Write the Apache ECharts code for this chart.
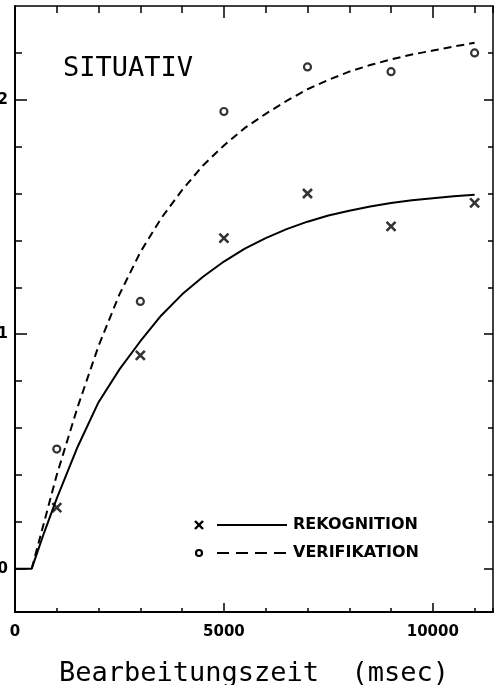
<!DOCTYPE html>
<html>
<head>
<meta charset="utf-8">
<script src="https://cdn.jsdelivr.net/npm/echarts@6/dist/echarts.min.js"></script>
<style>html,body{margin:0;padding:0;background:#fff}#chart{width:503px;height:685px}</style>
</head>
<body>
<div id="chart"></div>
<script>
const measureTimes = [1000, 3000, 5000, 7000, 9000, 11000];
const rekognitionPoints = [0.26, 0.91, 1.41, 1.60, 1.46, 1.56];
const verifikationPoints = [0.51, 1.14, 1.95, 2.14, 2.12, 2.20];

const curveTimes = [0, 400, 700, 1000, 1500, 2000, 2500, 3000, 3500, 4000, 4500, 5000, 5500, 6000, 6500, 7000, 7500, 8000, 8500, 9000, 9500, 10000, 10500, 11000];
const rekognitionCurve = [0, 0, 0.155, 0.30, 0.52, 0.71, 0.85, 0.97, 1.08, 1.17, 1.245, 1.31, 1.365, 1.41, 1.448, 1.48, 1.506, 1.527, 1.545, 1.56, 1.571, 1.58, 1.588, 1.595];
const verifikationCurve = [null, 0, 0.20, 0.40, 0.69, 0.95, 1.17, 1.35, 1.495, 1.615, 1.72, 1.805, 1.88, 1.94, 1.995, 2.045, 2.085, 2.12, 2.148, 2.172, 2.193, 2.21, 2.227, 2.243];

const xLabelValues = [0, 5000, 10000];
const xMajorTicks = [5000, 10000];
const yLabelValues = [0, 1, 2];
const yMinorTicks = [0.2, 0.4, 0.6, 0.8, 1.2, 1.4, 1.6, 1.8, 2.2];
const yAllTicks = [0, 0.2, 0.4, 0.6, 0.8, 1, 1.2, 1.4, 1.6, 1.8, 2, 2.2];

const titleText = 'SITUATIV';
const xAxisName = 'Bearbeitungszeit  (msec)';
const legendNames = ['REKOGNITION', 'VERIFIKATION'];

const X_MIN = 0, X_MAX = 11440, Y_MIN = -0.185, Y_MAX = 2.4;

const chart = echarts.init(document.getElementById('chart'), null, {renderer: 'canvas'});

const crossPath = 'path://M0,0L10,10M10,0L0,10';
const labelFont = {fontFamily: 'DejaVu Sans', fontWeight: 'bold', fontSize: 15, color: '#000'};

function xAx(extra) {
  return Object.assign({
    type: 'value', min: X_MIN, max: X_MAX, gridIndex: 0,
    splitLine: {show: false},
    axisLine: {show: false, onZero: false, lineStyle: {color: '#000', width: 2}},
    axisTick: {show: false},
    axisLabel: {show: false}
  }, extra);
}
function yAx(extra) {
  return Object.assign({
    type: 'value', min: Y_MIN, max: Y_MAX, gridIndex: 0,
    splitLine: {show: false},
    axisLine: {show: false, onZero: false, lineStyle: {color: '#000', width: 2}},
    axisTick: {show: false},
    axisLabel: {show: false}
  }, extra);
}

const option = {
  backgroundColor: '#fff',
  animation: false,
  grid: {left: 15, right: 10, top: 6, bottom: 73, containLabel: false,
    outerBounds: {left: -40, top: -40, right: -40, bottom: -40}},
  xAxis: [
    xAx({position: 'bottom', interval: 1000,
      axisLine: {show: true, onZero: false, lineStyle: {color: '#000', width: 2}},
      axisTick: {show: true, inside: true, length: 4, lineStyle: {color: '#000', width: 1.5}},
      axisLabel: Object.assign({show: true, customValues: xLabelValues, margin: 13,
        formatter: v => String(v)}, labelFont),
      name: xAxisName, nameLocation: 'middle', nameGap: 48,
      nameTextStyle: {fontFamily: 'DejaVu Sans Mono', fontSize: 27, color: '#000'}
    }),
    xAx({position: 'bottom',
      axisTick: {show: true, inside: true, length: 9, customValues: xMajorTicks, lineStyle: {color: '#000', width: 1.5}}
    }),
    xAx({position: 'top', interval: 1000,
      axisLine: {show: true, onZero: false, lineStyle: {color: '#000', width: 1.5}},
      axisTick: {show: true, inside: true, length: 7, lineStyle: {color: '#000', width: 1.5}}
    }),
    xAx({position: 'top',
      axisTick: {show: true, inside: true, length: 12, customValues: xMajorTicks, lineStyle: {color: '#000', width: 1.5}}
    })
  ],
  yAxis: [
    yAx({position: 'left',
      axisLine: {show: true, onZero: false, lineStyle: {color: '#000', width: 2}},
      axisTick: {show: true, inside: true, length: 12, customValues: yLabelValues, lineStyle: {color: '#000', width: 1.5}},
      axisLabel: Object.assign({show: true, customValues: yLabelValues, margin: 7,
        formatter: v => String(v)}, labelFont)
    }),
    yAx({position: 'left',
      axisTick: {show: true, inside: true, length: 7, customValues: yMinorTicks, lineStyle: {color: '#000', width: 1.5}}
    }),
    yAx({position: 'right',
      axisLine: {show: true, onZero: false, lineStyle: {color: '#000', width: 1.5}},
      axisTick: {show: true, inside: true, length: 5, customValues: yAllTicks, lineStyle: {color: '#000', width: 1.5}}
    }),
    yAx({position: 'right',
      axisTick: {show: true, inside: true, length: 9, customValues: yLabelValues, lineStyle: {color: '#000', width: 1.5}}
    })
  ],
  series: [
    {
      name: legendNames[0] + ' Kurve', type: 'line', xAxisIndex: 0, yAxisIndex: 0,
      data: curveTimes.map((t, i) => [t, rekognitionCurve[i]]),
      showSymbol: false, smooth: false,
      lineStyle: {color: '#000', width: 2}
    },
    {
      name: legendNames[1] + ' Kurve', type: 'line', xAxisIndex: 0, yAxisIndex: 0,
      data: curveTimes.map((t, i) => [t, verifikationCurve[i]]),
      showSymbol: false, smooth: false, connectNulls: false,
      lineStyle: {color: '#000', width: 2, type: [8, 5]}
    },
    {
      name: legendNames[0], type: 'scatter', xAxisIndex: 0, yAxisIndex: 0,
      data: measureTimes.map((t, i) => [t, rekognitionPoints[i]]),
      symbol: crossPath, symbolSize: 9,
      itemStyle: {color: 'none', borderColor: '#000', borderWidth: 2.6}
    },
    {
      name: legendNames[1], type: 'scatter', xAxisIndex: 0, yAxisIndex: 0,
      data: measureTimes.map((t, i) => [t, verifikationPoints[i]]),
      symbol: 'circle', symbolSize: 7,
      itemStyle: {color: '#fff', borderColor: '#000', borderWidth: 2.2}
    }
  ],
  graphic: [
    {type: 'text', left: 63, top: 55,
      style: {text: titleText, fontFamily: 'DejaVu Sans Mono', fontSize: 27, fill: '#000'}},
    {type: 'line', shape: {x1: 195, y1: 521, x2: 203, y2: 529}, style: {stroke: '#000', lineWidth: 2.4}},
    {type: 'line', shape: {x1: 203, y1: 521, x2: 195, y2: 529}, style: {stroke: '#000', lineWidth: 2.4}},
    {type: 'line', shape: {x1: 217, y1: 525, x2: 287, y2: 525}, style: {stroke: '#000', lineWidth: 2}},
    {type: 'text', x: 293, y: 525,
      style: {text: legendNames[0], fontFamily: 'DejaVu Sans', fontWeight: 'bold', fontSize: 16, fill: '#000', verticalAlign: 'middle'}},
    {type: 'circle', shape: {cx: 199, cy: 553, r: 3}, style: {fill: '#fff', stroke: '#000', lineWidth: 2.2}},
    {type: 'line', shape: {x1: 217, y1: 553, x2: 287, y2: 553}, style: {stroke: '#000', lineWidth: 2, lineDash: [12, 7]}},
    {type: 'text', x: 293, y: 553,
      style: {text: legendNames[1], fontFamily: 'DejaVu Sans', fontWeight: 'bold', fontSize: 16, fill: '#000', verticalAlign: 'middle'}}
  ]
};
chart.setOption(option);
</script>
</body>
</html>
